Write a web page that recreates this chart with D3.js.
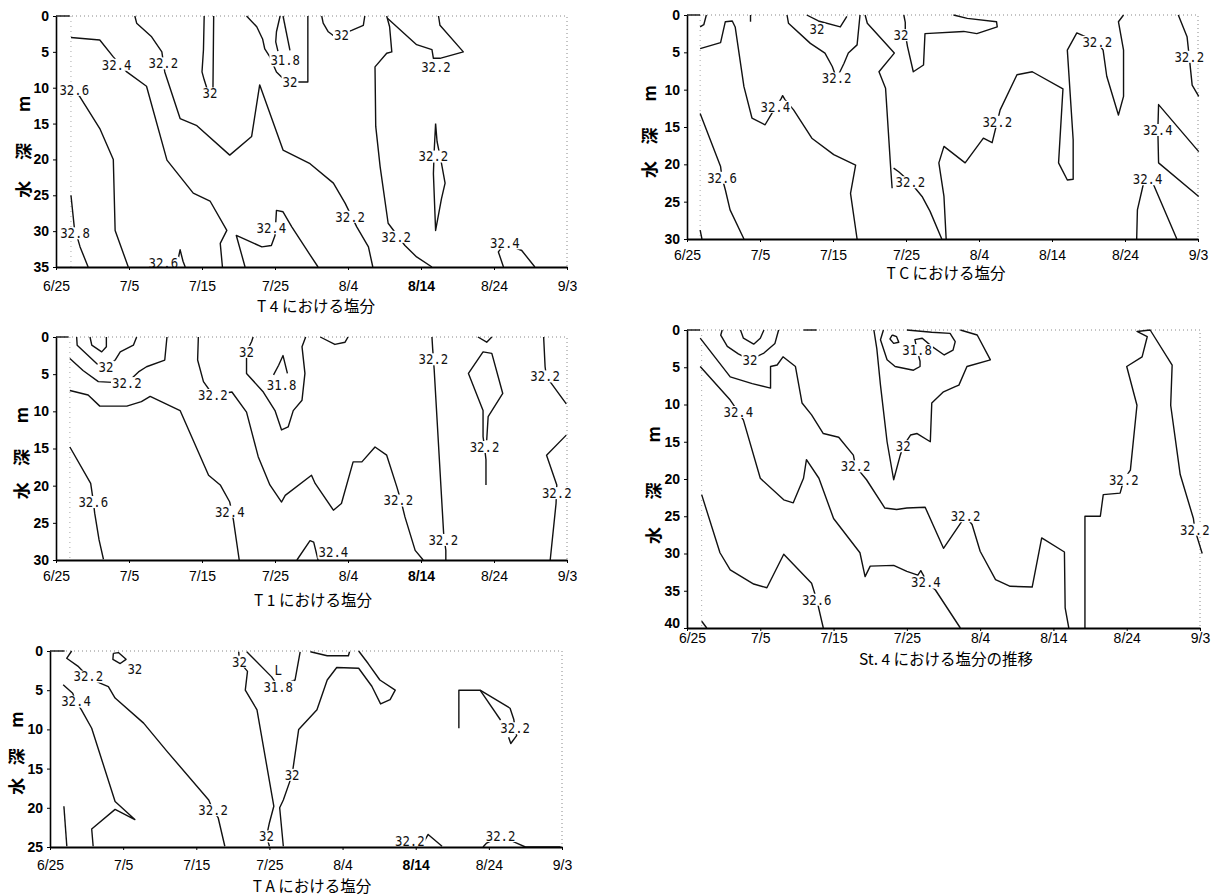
<!DOCTYPE html>
<html>
<head>
<meta charset="utf-8">
<script src="https://cdn.jsdelivr.net/npm/d3@7"></script>
<style>
  html, body { margin: 0; background: #fff; }
  svg { display: block; }
</style>
</head>
<body>
<svg id="chart" width="1221" height="895"></svg>
<script>
// Salinity sections: five depth-time contour panels (days after 6/25, depth in m).
// Each contour is a polyline of [day, depth]; each label is [day, depth, text].

const tickDays = [0, 10, 20, 30, 40, 50, 60, 70];
const tickDates = ["6/25", "7/5", "7/15", "7/25", "8/4", "8/14", "8/24", "9/3"];

const t4Lines = [
  [[0, 0], [1.9, 0]],
  [[2.05, 3.0], [6.0, 3.35], [7.85, 5.7], [9.7, 7.8], [12.4, 9.8], [15.2, 20.1], [18.8, 24.7], [21.1, 25.8], [23.4, 29.9], [22.5, 31.7], [22.8, 35]],
  [[2.5, 10.3], [3.3, 11.3], [6.0, 15.7], [7.85, 20], [8.1, 29.9], [9.9, 35]],
  [[2.05, 25], [2.5, 29.4], [3.3, 32.2], [4.4, 35]],
  [[16.5, 35], [17.0, 32.6], [17.4, 34.2], [17.7, 35]],
  [[10.8, 0], [11.05, 1], [13.1, 2.9], [14.5, 5], [14.9, 7.8], [17, 14.3], [19.3, 15.3], [23.8, 19.4], [26.8, 16.8], [27.9, 9.6], [31.1, 18.7], [34.8, 20.6], [38, 23.3], [39.6, 26.1], [41.2, 29.4], [42.8, 32.2], [43.4, 35]],
  [[25.9, 35], [24.7, 30.6], [28.2, 32.2], [29.5, 32], [30, 30.6], [30.2, 27.1], [31.1, 27.3], [32.3, 29.4], [34.8, 33.3], [35.9, 35]],
  [[20.3, 0], [20.2, 4.7], [20.0, 7.8], [20.3, 8.9], [20.8, 10.5], [21.5, 10.2], [21.6, 0]],
  [[26.1, 0], [27.5, 1.5], [28.3, 3.2], [28.6, 4.6], [29.3, 5.7], [30.2, 7.8], [31.0, 8.6], [33.2, 9.2], [34.5, 9.2], [34.5, 0]],
  [[30.7, 0], [30.2, 2.2], [30.1, 3.6], [30.4, 4.9]],
  [[31.1, 0], [32.05, 4.8]],
  [[36.4, 0], [36.6, 1], [37.3, 2.2], [38.2, 2.9], [40.5, 2.0], [42.1, 1.3], [42.3, 0]],
  [[45.3, 0], [45.7, 1.5], [46, 5], [45.3, 5.2], [43.7, 7.1], [43.8, 15.4], [44.4, 21], [45.5, 28.9], [47.8, 32], [49.4, 33.6], [51.5, 35]],
  [[45.4, 0.3], [49.4, 4], [51.5, 4.7], [51.7, 5.9], [52.6, 5.9], [55.8, 5], [52.6, 1.3], [52.4, 0]],
  [[52.0, 15], [51.8, 19], [51.7, 22], [52.0, 29.9], [52.8, 25.5], [53.3, 23.3], [52.8, 20.5], [52.2, 17.5], [52.0, 15]],
  [[61.3, 35], [60.6, 32.9], [61.5, 31.7], [63.8, 32.7], [65.6, 35]]
];
const t4Labels = [
  [8.3, 6.8, "32.4"], [14.7, 6.6, "32.2"], [2.5, 10.3, "32.6"], [2.6, 30.3, "32.8"],
  [14.7, 34.4, "32.6"], [21.1, 10.8, "32"], [29.5, 29.6, "32.4"], [31.4, 6.2, "31.8"],
  [32.05, 9.2, "32"], [39.1, 2.65, "32"], [52.05, 7.1, "32.2"], [51.7, 19.6, "32.2"],
  [40.3, 28.0, "32.2"], [46.6, 30.8, "32.2"], [61.5, 31.7, "32.4"]
];

const t1Lines = [
  [[0, 0], [1.7, 0]],
  [[4.66, 0], [4.9, 1.1], [6.26, 2], [6.9, 1.3], [6.9, 0]],
  [[2.83, 0], [2.9, 1.1], [5.6, 3.6], [6.9, 4.0], [8.1, 3.1], [8.8, 2], [10.6, 1.1], [11.05, 0]],
  [[1.9, 2.9], [3.7, 4.5], [5.8, 6], [9.7, 6.2], [11.3, 4.7], [12.4, 4], [14.9, 3.1], [15.2, 0]],
  [[1.9, 7.2], [4.4, 7.8], [6.0, 9.3], [9.7, 9.3], [11.7, 8.7], [12.9, 8], [17, 9.9], [20.9, 18.6], [22.5, 19.9], [23.8, 22.2], [24.3, 24.6], [25.1, 30]],
  [[1.9, 14.8], [4.75, 19.7], [5.1, 22], [5.3, 23.7], [5.9, 27.3], [6.5, 29.9]],
  [[19.5, 0], [19.4, 3.1], [20.2, 6], [21.5, 7.8], [24.1, 7.4], [26.1, 10.1], [27.7, 16.1], [29.3, 19.9], [30.9, 22.2], [31.4, 21.3], [35.0, 18.6], [35.5, 19.7], [38, 23.3], [39.1, 22.4], [40.7, 16.8], [41.9, 16.8], [43.7, 14.8], [45.3, 15.9], [46.7, 20.2], [47.3, 22.2], [47.8, 24.2], [49.2, 28.7], [50.3, 30]],
  [[27.0, 0], [26.8, 0.6], [26.1, 2.0], [26.1, 4.9], [28.4, 7.4], [30, 9.9], [30.9, 12.5], [31.8, 12.1], [32.5, 9.9], [33.7, 8.5], [34.1, 4.9], [33.7, 1.3], [34.2, 0]],
  [[36.2, 0], [38.2, 1], [39.6, 0.7], [40, 0]],
  [[29.8, 5.1], [30.5, 3.8], [31.1, 2.5], [31.7, 4.9]],
  [[51.5, 0], [51.6, 1.6], [51.8, 4.3], [53.1, 26.4], [53.4, 28.7], [53.4, 30]],
  [[58.9, 19.9], [58.9, 16.5], [58.7, 14.8], [58.5, 13.4], [58.5, 9.9], [56.5, 4.9], [58.5, 2.0], [59.7, 2.2], [61.2, 7.6], [59.2, 10.7], [59.0, 13.9]],
  [[57.8, 0], [59.0, 0.7], [59.7, 0]],
  [[66.8, 0], [67.0, 4], [67.2, 5.5], [67.9, 6.3], [69.9, 9]],
  [[69.9, 13.2], [67.2, 15.9], [68.6, 19.9], [68.5, 22.4], [67.7, 30]],
  [[33, 30], [34.8, 27.4], [35.3, 27.6], [35.9, 30]]
];
const t1Labels = [
  [6.85, 4.0, "32"], [9.7, 6.2, "32.2"], [23.8, 23.5, "32.4"], [5.1, 22.2, "32.6"],
  [21.5, 7.8, "32.2"], [46.9, 22.0, "32.2"], [26.1, 2.0, "32"], [30.9, 6.5, "31.8"],
  [51.7, 3.0, "32.2"], [53.05, 27.3, "32.2"], [58.7, 14.8, "32.2"], [67.0, 5.3, "32.2"],
  [68.6, 21.0, "32.2"], [38.0, 29.0, "32.4"]
];

const taLines = [
  [[0, 0], [2.0, 0]],
  [[2.96, 0], [2.28, 0.93], [3.9, 2.0], [5.24, 3.27], [6.84, 4.1], [7.98, 4.54], [8.9, 6.0], [12.8, 9.2], [16.0, 12.8], [21.7, 19], [22.3, 20.3], [23.0, 21.3], [23.9, 24.9]],
  [[1.8, 4.3], [3.1, 5.4], [3.56, 6.46], [4.3, 7.5], [5.7, 9.85], [8.9, 19.2], [11.6, 21.5], [8.9, 20.2], [5.7, 22.7], [5.9, 24.9]],
  [[1.9, 19.8], [2.3, 24.9]],
  [[8.66, 0.3], [9.35, 0.2], [10.4, 1.06], [9.6, 1.6], [8.6, 1.06], [8.66, 0.3]],
  [[25.8, 0.1], [25.9, 1.36], [27, 2.6], [26.7, 5], [28.3, 7.5], [30.6, 19.8], [30, 21.9], [29.6, 23.65], [30.0, 24.9]],
  [[26.9, 0.1], [30.3, 3.3], [31.2, 4.55], [33.5, 3.7], [34.2, 0.1]],
  [[35.6, 0.1], [37.9, 0.6], [40.8, 0.6], [40.95, 0.1]],
  [[31.9, 24.9], [31.4, 20], [31.9, 19], [33.1, 15.8], [34.0, 10.0], [36.5, 7.5], [37.9, 3.7], [39.2, 2.1], [42.2, 2.2], [44.0, 4.5], [45.2, 6.75], [46.5, 6.2], [47.2, 5.0], [45.1, 3.7], [43.5, 1.6], [42.2, 0]],
  [[55.9, 9.85], [55.9, 5.0], [58.8, 5.0], [62.9, 7.3], [63.4, 8.7], [63.6, 9.85], [63.8, 10.8], [63.0, 11.8], [62.7, 11.0]],
  [[58.8, 5.0], [61.6, 8.8]],
  [[50.8, 24.9], [51.7, 23.4], [53.6, 24.9]],
  [[59.2, 25], [59.7, 24.5], [61.6, 23.6], [63.8, 24.5], [65, 25], [69.8, 25]]
];
const taLabels = [
  [5.24, 3.27, "32.2"], [22.3, 20.3, "32.2"], [3.56, 6.46, "32.4"], [11.6, 2.3, "32"],
  [25.9, 1.36, "32"], [29.6, 23.65, "32"], [31.2, 4.55, "31.8"], [31.2, 2.4, "L"],
  [33.1, 15.8, "32"], [63.6, 9.85, "32.2"], [49.2, 24.3, "32.2"], [61.6, 23.6, "32.2"]
];

const tcLines = [
  [[0, 0], [1.8, 0]],
  [[1.8, 1.6], [2.3, 1.3], [2.65, 0]],
  [[1.8, 4.5], [4.6, 3.7], [5.25, 0.9], [6.2, 0.8], [6.6, 1.6], [7.8, 9.6], [8.9, 13.8], [10.7, 14.7], [11.6, 13.2], [12.9, 11.2], [13.1, 10.8], [13.4, 11.3], [14.6, 12.7], [17.1, 16.5], [20.1, 18.7], [23.1, 20.1], [22.4, 23.9], [23.3, 30]],
  [[1.8, 13.2], [4.6, 20.3], [4.8, 21.8], [5.25, 23.4], [5.9, 26.1], [7.8, 30]],
  [[1.8, 28.8], [2.05, 30]],
  [[8.7, 0], [8.7, 0.9]],
  [[16.4, 0], [18, 0.8], [21.0, 1.6], [21.9, 0.2]],
  [[13.7, 0], [13.9, 1.1], [16.9, 3.8], [18.9, 5.1], [19.9, 6.9], [20.5, 8.5], [21.5, 6.5], [22.1, 5.1], [23.3, 4], [23.7, 0]],
  [[24.4, 0], [24.7, 1.1], [28.4, 5.1], [26.3, 7.6], [27.2, 9.8], [27.9, 20.5], [28.1, 23.2]],
  [[28.3, 20.5], [29.0, 21.0], [30.6, 22.4], [32.2, 24.3], [33.3, 26.3], [34.9, 30]],
  [[29.7, 0], [29.9, 1], [29.9, 2.5], [30.2, 4.2], [31.0, 7.6], [32.4, 6.7], [32.6, 2.5], [37.9, 2.2], [39.7, 2.5], [42.5, 1.6], [42.4, 0.9], [38.4, 0.45], [36.5, 0]],
  [[35.5, 30], [35.2, 24.3], [34.5, 19.8], [35.2, 17.6], [38.1, 19.8], [40.6, 16.5], [41.8, 17.1], [42.5, 14.3], [42.9, 12.7], [45.2, 8.0], [47.3, 7.6], [51.5, 9.9], [50.9, 19.8], [52.1, 22.1], [52.9, 22.0], [52.9, 16.7], [52.1, 4.7], [53.4, 2.4], [56.2, 3.6], [57, 4.7], [57.5, 8.2], [59.1, 13.4], [59.8, 10.9], [59.8, 4.7], [59.1, 0.9], [59.8, 0]],
  [[67.3, 0], [68.5, 2.9], [68.8, 5.6], [69.2, 9.4], [70.1, 10.9]],
  [[70.1, 18.3], [64.6, 12.0], [64.5, 15.4], [64.6, 19.8], [70.1, 24.3]],
  [[61.6, 30], [61.7, 26.1], [62.5, 22.7], [63.1, 22.0], [63.9, 22.7], [67.1, 30]]
];
const tcLabels = [
  [12.1, 12.3, "32.4"], [4.8, 21.8, "32.6"], [17.8, 1.9, "32"], [20.5, 8.5, "32.2"],
  [30.6, 22.4, "32.2"], [29.3, 2.7, "32"], [42.5, 14.3, "32.2"], [56.2, 3.6, "32.2"],
  [68.8, 5.6, "32.2"], [64.5, 15.4, "32.4"], [63.1, 22.0, "32.4"]
];

const st4Lines = [
  [[0, 0], [1.8, 0]],
  [[15.9, 0], [17.7, 0]],
  [[2.0, 39.1], [2.7, 40]],
  [[4.8, 0], [4.6, 0.7], [5.5, 2.2], [7.0, 3.2], [8.6, 4.0], [10.5, 3.1], [12.0, 1.8], [12.5, 0]],
  [[7.3, 0], [7.7, 1.1], [9.1, 1.9], [10, 1.1], [10.5, 0]],
  [[1.8, 1.1], [5.9, 6.3], [8.9, 7.2], [11.4, 7.8], [11.4, 4.9], [12.3, 4.7], [13.1, 3.6], [14.8, 4.9], [15.7, 9.8], [17, 11.4], [18.6, 13.9], [20.7, 14.4], [22.7, 16.8], [23.0, 18.3], [24.5, 20.1], [27, 23.9], [28.6, 24.1], [30, 23.9], [32.5, 23.8], [35.0, 29.3], [37.5, 25.7], [38.0, 25.0], [38.9, 26.1], [40.0, 29.7], [42.1, 33.5], [44.1, 34.4], [47.1, 34.5], [48.4, 27.9], [51.5, 29.8], [51.6, 37.3], [52.1, 40]],
  [[25.5, 0], [25.9, 2.5], [26.4, 7.4], [27.3, 15], [28.2, 20.1], [29.1, 16.8], [29.5, 15.6], [30.5, 14.1], [31.4, 13.9], [33.2, 15], [33.4, 9.8], [35, 8.3], [36.6, 7.6], [37.1, 7.4], [38.2, 4.9], [41.4, 4.0], [39.6, 0.67], [37.3, 0]],
  [[26.8, 0], [26.4, 1.3], [27.3, 4.0], [28.4, 4.9], [30.9, 5.4], [31.8, 4.9], [31.8, 4.2], [31.4, 2.7], [31.1, 1.3], [32.1, 1.1], [33.4, 2.2], [35.1, 3.35], [36.3, 2.7], [36.6, 1.56], [35.9, 0.45], [33.4, 0.3], [30.0, 0]],
  [[28.0, 0.67], [28.6, 0.9], [28.9, 1.65], [28.2, 1.8], [27.7, 1.2], [28.0, 0.67]],
  [[1.8, 4.9], [5.9, 9.4], [7.0, 11.0], [7.7, 12.1], [10, 19.9], [13.2, 22.8], [14.5, 23.2], [15.9, 19.9], [16.3, 17.4], [18, 19.9], [20, 25.3], [23.6, 29.9], [24.3, 33.1], [25, 31.7], [28.2, 31.6], [30, 32.4], [31.5, 32.9], [31.9, 32.3], [32.3, 33.0], [32.5, 33.75], [33.9, 34.9], [37.3, 40]],
  [[2.0, 22.1], [4.5, 29.9], [5.9, 32.2], [9.1, 34.1], [10.9, 34.6], [13.2, 30.1], [17, 34], [17.7, 36.2], [18.6, 40]],
  [[54.3, 40], [54.3, 25], [56.4, 25], [56.8, 22.1], [59.1, 21.9], [59.6, 20.1], [60.5, 18.8], [61.4, 10.1], [60, 4.9], [62.1, 3.6], [62.8, 0.9], [61.4, 0.2], [63.2, 0], [66.2, 4.7], [66, 10.1], [67.3, 19.4], [69.1, 25.3], [69.3, 26.8], [70.3, 30]]
];
const st4Labels = [
  [8.6, 4.0, "32"], [23.0, 18.3, "32.2"], [38.0, 25.0, "32.2"], [29.5, 15.6, "32"],
  [31.4, 2.7, "31.8"], [7.0, 11.0, "32.4"], [32.6, 33.9, "32.4"], [17.7, 36.2, "32.6"],
  [59.6, 20.1, "32.2"], [69.3, 26.8, "32.2"]
];

// Page layout for each panel (pixels), kept apart from the data above.
const panels = [
  { lines: t4Lines, labels: t4Labels, depth: 35, x0: 56, x1: 567, y0: 16, y1: 267, obs: 2.05,
    title: "T 4 における塩分", titleX: 316, titleY: 312, xPad: 11, ylabX: 22, bold814: true },
  { lines: t1Lines, labels: t1Labels, depth: 30, x0: 56, x1: 567, y0: 337, y1: 560, obs: 1.9,
    title: "T 1 における塩分", titleX: 313, titleY: 606, xPad: 8, ylabX: 20, bold814: true },
  { lines: taLines, labels: taLabels, depth: 25, x0: 50, x1: 562, y0: 651, y1: 847, obs: null,
    title: "T A における塩分", titleX: 312, titleY: 892, xPad: 10.5, ylabX: 15, bold814: true },
  { lines: tcLines, labels: tcLabels, depth: 30, x0: 687, x1: 1198, y0: 15, y1: 239, obs: 1.8,
    title: "T C における塩分", titleX: 946, titleY: 279, xPad: 8, ylabX: 648, bold814: false },
  { lines: st4Lines, labels: st4Labels, depth: 40, x0: 687, x1: 1200, y0: 330, y1: 628, obs: 2.0,
    title: "St. 4 における塩分の推移", titleX: 946, titleY: 665, xPad: 2, ylabX: 652, bold814: false,
    crowdedCorner: true }
];

const labelFont = 14.5;
const labelSquash = 0.85;
const charW = labelFont * 0.602 * labelSquash;

const svg = d3.select("#chart");

function drawPanel(p) {
  const x = d3.scaleLinear().domain([0, 70]).range([p.x0, p.x1]);
  const y = d3.scaleLinear().domain([0, p.depth]).range([p.y0, p.y1]);
  const g = svg.append("g");

  // dotted frame on top and right, dotted first-survey line
  g.append("path")
    .attr("d", `M${x(0)},${y(0)}H${x(70)}V${y(p.depth)}`)
    .attr("fill", "none")
    .attr("stroke", "#888")
    .attr("stroke-width", 1)
    .attr("stroke-dasharray", "1,3");
  if (p.obs != null) {
    g.append("line")
      .attr("x1", x(p.obs)).attr("x2", x(p.obs))
      .attr("y1", y(0)).attr("y2", y(p.depth))
      .attr("stroke", "#aaa")
      .attr("stroke-width", 1)
      .attr("stroke-dasharray", "1,4");
  }

  const line = d3.line().x((d) => x(d[0])).y((d) => y(d[1]));
  g.selectAll("path.contour")
    .data(p.lines)
    .join("path")
    .attr("class", "contour")
    .attr("d", line)
    .attr("fill", "none")
    .attr("stroke", "#111")
    .attr("stroke-width", 1.4)
    .attr("stroke-linejoin", "round");

  // contour labels on a white patch that breaks the line under them
  const lab = g.selectAll("g.clabel")
    .data(p.labels)
    .join("g")
    .attr("class", "clabel")
    .attr("transform", (d) => `translate(${x(d[0])},${y(d[1])})`);
  lab.append("rect")
    .attr("x", (d) => -(d[2].length * charW) / 2 - 1)
    .attr("y", -6)
    .attr("width", (d) => d[2].length * charW + 2)
    .attr("height", 12)
    .attr("fill", "#fff");
  lab.append("text")
    .attr("transform", `scale(${labelSquash},1)`)
    .attr("text-anchor", "middle")
    .attr("dominant-baseline", "central")
    .attr("font-family", "'DejaVu Sans Mono', monospace")
    .attr("font-size", labelFont)
    .attr("fill", "#111")
    .text((d) => d[2]);

  // axes
  const xAxis = g.append("g")
    .attr("transform", `translate(0,${y(p.depth)})`)
    .call(d3.axisBottom(x)
      .tickValues(tickDays)
      .tickFormat((d, i) => tickDates[i])
      .tickSize(3)
      .tickSizeOuter(0)
      .tickPadding(p.xPad));
  xAxis.select(".domain").attr("stroke", "#000").attr("stroke-width", 2);
  xAxis.selectAll(".tick line").attr("stroke", "#000");
  xAxis.selectAll(".tick text")
    .attr("font-family", "'Liberation Sans', Arial, sans-serif")
    .attr("font-size", 14)
    .attr("fill", "#000")
    .attr("font-weight", (d, i) => (p.bold814 && tickDates[i] === "8/14" ? "bold" : "normal"));

  const yAxis = g.append("g")
    .attr("transform", `translate(${x(0)},0)`)
    .call(d3.axisLeft(y)
      .tickValues(d3.range(0, p.depth + 1, 5))
      .tickSize(3)
      .tickSizeOuter(0)
      .tickPadding(4));
  yAxis.select(".domain").attr("stroke", "#000").attr("stroke-width", 1.6);
  yAxis.selectAll(".tick line").attr("stroke", "#000");
  yAxis.selectAll(".tick text")
    .attr("font-family", "'Liberation Sans', Arial, sans-serif")
    .attr("font-size", 14)
    .attr("font-weight", "bold")
    .attr("fill", "#000");

  // St.4: the last depth label and the first date share the corner
  if (p.crowdedCorner) {
    yAxis.selectAll(".tick text").filter((d) => d === p.depth).attr("dy", "-0.05em");
    xAxis.selectAll(".tick text").filter((d) => d === 0).attr("dx", 5);
  }

  // rotated axis caption: 水 深 … m
  const h = y(p.depth) - y(0);
  [["m", 0.35], ["深", 0.54], ["水", 0.69]].forEach(([ch, f]) => {
    g.append("text")
      .attr("transform", `translate(${p.ylabX},${y(0) + h * f}) rotate(-90)`)
      .attr("text-anchor", "middle")
      .attr("dominant-baseline", "central")
      .attr("font-family", "'Noto Sans CJK JP', sans-serif")
      .attr("font-size", 17)
      .attr("font-weight", "bold")
      .text(ch);
  });

  g.append("text")
    .attr("x", p.titleX)
    .attr("y", p.titleY)
    .attr("text-anchor", "middle")
    .attr("font-family", "'Noto Sans CJK JP', sans-serif")
    .attr("font-size", 15.5)
    .attr("fill", "#000")
    .text(p.title);
}

panels.forEach(drawPanel);
</script>
</body>
</html>
